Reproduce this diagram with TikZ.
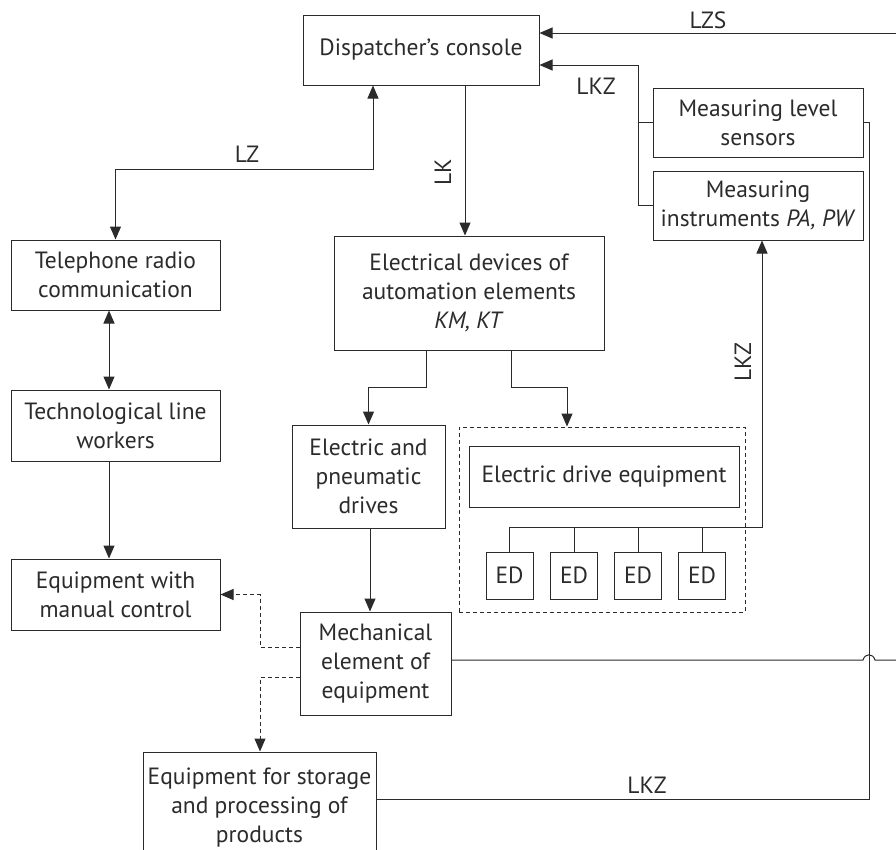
\documentclass[tikz,border=0pt]{standalone}
\usepackage{fontspec}
\setmainfont{PT Sans}
\usetikzlibrary{arrows.meta}
\definecolor{ink}{HTML}{2B2B2B}
\begin{document}
\begin{tikzpicture}[x=1pt,y=-1pt,
  txt/.style={font=\fontsize{23.5}{29}\selectfont},
  box/.style={txt, draw=ink, line width=1pt, align=center, text=ink, inner sep=1pt},
  lbl/.style={txt, text=ink, inner sep=1pt},
  conn/.style={draw=ink, line width=1pt},
  arr/.style={conn, -{Triangle[length=13pt,width=11pt]}},
  darr/.style={conn, {Triangle[length=13pt,width=11pt]}-{Triangle[length=13pt,width=11pt]}},
  dashln/.style={dash pattern=on 4pt off 3pt}
]
\clip (0,0) rectangle (896,849);
\fill[white] (0,0) rectangle (896,849);

% boxes
\node[box, minimum width=236, minimum height=70] (console) at (421,50) {Dispatcher's console};
\node[box, minimum width=210, minimum height=69] (sensors) at (758,122.5) {Measuring level\\sensors};
\node[box, minimum width=210, minimum height=69] (instr) at (758,205.5) {Measuring\\instruments \textit{PA, PW}};
\node[box, minimum width=209, minimum height=70] (tel) at (115.5,275) {Telephone radio\\communication};
\node[box, minimum width=209, minimum height=71] (tech) at (115.5,425.5) {Technological line\\workers};
\node[box, minimum width=209, minimum height=71] (manual) at (115.5,594.5) {Equipment with\\manual control};
\node[box, minimum width=270, minimum height=114] (elec) at (469,293) {Electrical devices of\\automation elements\\\textit{KM, KT}};
\node[box, minimum width=153, minimum height=103] (drives) at (368.5,476.5) {Electric and\\pneumatic\\drives};
\node[draw=ink, line width=1pt, dashln, minimum width=286, minimum height=185, inner sep=0pt] (dbox) at (602,519.5) {};
\node[box, minimum width=270, minimum height=61] (ede) at (604,476.5) {Electric drive equipment};
\node[box, minimum width=47, minimum height=47] (ed1) at (509.5,575.5) {ED};
\node[box, minimum width=47, minimum height=47] (ed2) at (574,575.5) {ED};
\node[box, minimum width=47, minimum height=47] (ed3) at (638,575.5) {ED};
\node[box, minimum width=47, minimum height=47] (ed4) at (702,575.5) {ED};
\node[box, minimum width=151, minimum height=103] (mech) at (375.5,663.5) {Mechanical\\element of\\equipment};
\node[box, minimum width=233, minimum height=112] (storage) at (259.5,808) {Equipment for storage\\and processing of\\products};

% LZS
\coordinate (lzsR) at (896,33);
\draw[arr] (lzsR) -- (console.east |- lzsR);
\node[lbl] (lzs) at (708,20) {LZS};

% LKZ to console
\coordinate (jk) at (638,65);
\draw[arr] (instr.west) -| (jk) -- (console.east |- jk);
\draw[conn] (sensors.west) -- (sensors.west -| jk);
\node[lbl] (lkz1) at (596,86) {LKZ};

% LZ
\coordinate (lzA) at (373,169);
\draw[darr] (console.south -| lzA) -- (lzA) -| (tel.north);
\node[lbl] (lz) at (247,154) {LZ};

% left column
\coordinate (lc) at (109,0);
\draw[darr] (tel.south -| lc) -- (tech.north -| lc);
\draw[arr] (tech.south -| lc) -- (manual.north -| lc);

% LK
\coordinate (lkx) at (465,0);
\draw[arr] (console.south -| lkx) -- (elec.north -| lkx);
\node[lbl, rotate=90] (lk) at (443,172) {LK};

% elec to drives and dashed box
\coordinate (b1) at (426,387);
\draw[arr] (elec.south -| b1) -- (b1) -| (drives.north);
\coordinate (b2) at (511,387);
\coordinate (b3) at (567,0);
\draw[arr] (elec.south -| b2) -- (b2) -| (dbox.north -| b3);

% drives to mech
\coordinate (dm) at (370,0);
\draw[arr] (drives.south -| dm) -- (mech.north -| dm);

% bus
\coordinate (bus) at (762,527);
\draw[arr] (ed1.north |- bus) -- (bus) -- (instr.south -| bus);
\foreach \i in {1,...,4} \draw[conn] (ed\i.north) -- (ed\i.north |- bus);
\node[lbl, rotate=90] (lkz2) at (743,362) {LKZ};

% dashed arrows from mech
\coordinate (dv) at (260,0);
\draw[arr, dashln] (mech.west |- 0,647) -| (manual.east -| dv) -- (manual.east);
\draw[arr, dashln] (mech.west |- 0,677) -| (storage.north -| dv);

% mech to right edge with hop
\draw[conn] (mech.east |- 0,660) -- (863,660) .. controls (865,653) and (873,653) .. (875,660) -- (896,660);

% LKZ bottom
\draw[conn] (storage.east |- 0,799) -| (sensors.east -| 869,0) -- (sensors.east);
\node[lbl] (lkz3) at (647,785) {LKZ};
\end{tikzpicture}
\end{document}
